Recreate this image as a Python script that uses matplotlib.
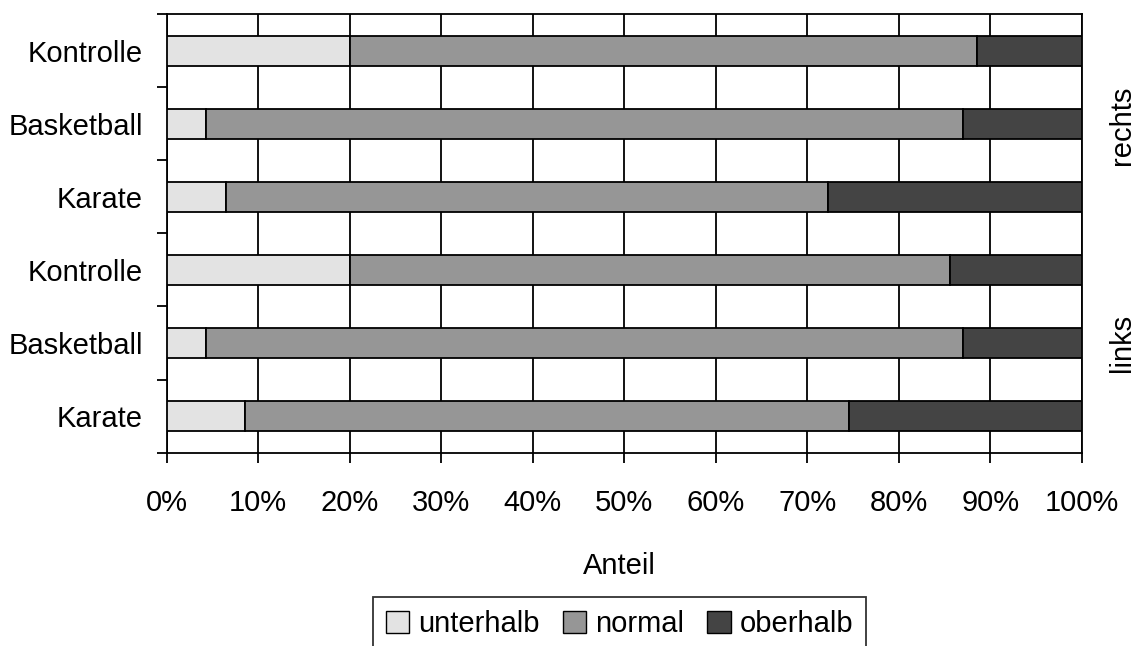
import matplotlib
matplotlib.use("Agg")
import matplotlib.pyplot as plt
from matplotlib.patches import Patch
from matplotlib.ticker import PercentFormatter
import numpy as np

plt.rcParams['font.family'] = ['Liberation Sans', 'DejaVu Sans']

categories = ["Karate", "Basketball", "Kontrolle", "Karate", "Basketball", "Kontrolle"]
groups = ["links", "rechts"]
unterhalb = [8.5, 4.3, 20.0, 6.5, 4.3, 20.0]
normal = [66.0, 82.7, 65.6, 65.8, 82.7, 68.5]
oberhalb = [25.5, 13.0, 14.4, 27.7, 13.0, 11.5]
series_names = ["unterhalb", "normal", "oberhalb"]
colors = ["#e3e3e3", "#969696", "#444444"]
xticks = list(range(0, 101, 10))

FS = 21

fig = plt.figure(figsize=(11.37, 6.46), dpi=100)
ax = fig.add_axes([166.7/1137, 1-452.7/646, (1082-166.7)/1137, (452.7-14)/646])

y = np.arange(len(categories))
left = np.zeros(len(categories))
for vals, name, col in zip([unterhalb, normal, oberhalb], series_names, colors):
    ax.barh(y, vals, left=left, height=0.41, color=col, edgecolor='black',
            linewidth=1.3, label=name, zorder=3)
    left = left + np.array(vals)

ax.set_xlim(0, 100)
ax.set_ylim(-0.5, len(categories) - 0.5)
ax.set_xticks(xticks)
ax.xaxis.set_major_formatter(PercentFormatter(decimals=0))
ax.set_yticks(y)
ax.set_yticklabels(categories)
ax.set_yticks(np.arange(-0.5, len(categories), 1), minor=True)
ax.tick_params(axis='y', which='major', length=0, pad=17, labelsize=FS)
ax.tick_params(axis='y', which='minor', length=7, width=1.3, direction='out')
ax.tick_params(axis='x', which='major', length=7, width=1.3, direction='out', pad=19, labelsize=FS)
ax.grid(axis='x', color='black', linewidth=1.3, zorder=0)
ax.set_axisbelow(True)
for s in ax.spines.values():
    s.set_linewidth(1.3)
    s.set_color('black')

fig.text(619.5/1137, 1-566/646, "Anteil", ha='center', va='center', fontsize=FS)
fig.text(1122/1137, 1-125/646, groups[1], rotation=90, ha='center', va='center', fontsize=FS)
fig.text(1122/1137, 1-343/646, groups[0], rotation=90, ha='center', va='center', fontsize=FS)

handles = [Patch(facecolor=c, edgecolor='black', linewidth=1.0, label=n) for c, n in zip(colors, series_names)]
leg = fig.legend(handles=handles, loc='upper center', bbox_to_anchor=(619.5/1137, 1-597/646),
                 ncol=3, frameon=True, fancybox=False, fontsize=FS, handlelength=0.8,
                 handleheight=0.8, handletextpad=0.3, columnspacing=0.8, borderpad=0.45,
                 borderaxespad=0)
leg.get_frame().set_edgecolor('black')
leg.get_frame().set_linewidth(1.3)

fig.savefig("out.png", dpi=100)
